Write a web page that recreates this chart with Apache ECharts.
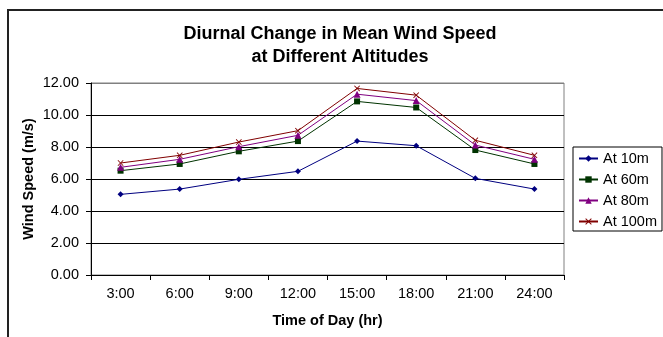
<!DOCTYPE html>
<html>
<head>
<meta charset="utf-8">
<script src="https://cdn.jsdelivr.net/npm/echarts@6/dist/echarts.min.js"></script>
<style>html,body{margin:0;padding:0;background:#fff;}#c{width:663px;height:337px;}</style>
</head>
<body>
<div id="c"></div>
<script>
var categories = ['3:00', '6:00', '9:00', '12:00', '15:00', '18:00', '21:00', '24:00'];
var at10m  = [5.04, 5.37, 5.98, 6.48, 8.37, 8.08, 6.04, 5.37];
var at60m  = [6.52, 6.94, 7.73, 8.37, 10.85, 10.47, 7.81, 6.94];
var at80m  = [6.73, 7.23, 8.02, 8.73, 11.30, 10.90, 8.12, 7.23];
var at100m = [7.00, 7.48, 8.31, 9.02, 11.66, 11.24, 8.42, 7.48];
var seriesNames = ['At 10m', 'At 60m', 'At 80m', 'At 100m'];
var yTicks = [0, 2, 4, 6, 8, 10, 12];

var FONT = '"Liberation Sans", Arial, sans-serif';
var xSym = 'path://M0,1L1,0L5,4L9,0L10,1L6,5L10,9L9,10L5,6L1,10L0,9L4,5Z';

function mk(name, data, color, symbol, size) {
  return {
    name: name, type: 'line', data: data,
    symbol: symbol, symbolSize: size, showSymbol: true,
    lineStyle: {color: color, width: 1},
    itemStyle: {color: color, borderWidth: 0},
    emphasis: {disabled: true}
  };
}

var chart = echarts.init(document.getElementById('c'), null, {renderer: 'canvas'});
chart.setOption({
  animation: false,
  backgroundColor: '#fff',
  textStyle: {fontFamily: FONT},
  title: {
    text: 'Diurnal Change in Mean Wind Speed\nat Different Altitudes',
    left: 335, top: 18, textAlign: 'center',
    textStyle: {fontFamily: FONT, fontSize: 18, fontWeight: 'bold', color: '#000', lineHeight: 23}
  },
  graphic: [{
    type: 'rect', z: 100, silent: true,
    shape: {x: 8, y: 10, width: 800, height: 500},
    style: {fill: 'none', stroke: '#222', lineWidth: 2}
  }],
  legend: {
    left: 573, top: 147, orient: 'vertical',
    data: seriesNames,
    itemWidth: 19, itemHeight: 8, itemGap: 6,
    padding: [4, 5, 2, 5],
    borderColor: '#000', borderWidth: 1,
    textStyle: {fontFamily: FONT, fontSize: 14.5, color: '#000', lineHeight: 14}
  },
  grid: {
    left: 91, right: 99, top: 83, bottom: 62,
    show: true, borderColor: '#808080', borderWidth: 1, backgroundColor: 'transparent'
  },
  xAxis: {
    type: 'category', data: categories, boundaryGap: true,
    name: 'Time of Day (hr)', nameLocation: 'middle', nameGap: 38, nameMoveOverlap: false,
    nameTextStyle: {fontFamily: FONT, fontSize: 14.5, fontWeight: 'bold', color: '#000'},
    axisLine: {lineStyle: {color: '#000', width: 1}},
    axisTick: {show: true, length: 5, lineStyle: {color: '#000'}},
    axisLabel: {fontFamily: FONT, fontSize: 14.5, color: '#000', margin: 11, interval: 0},
    splitLine: {show: false}
  },
  yAxis: {
    type: 'value', min: yTicks[0], max: yTicks[yTicks.length - 1], interval: 2,
    name: 'Wind Speed (m/s)', nameLocation: 'middle', nameGap: 55, nameMoveOverlap: false,
    nameTextStyle: {fontFamily: FONT, fontSize: 14.5, fontWeight: 'bold', color: '#000'},
    axisLine: {show: true, lineStyle: {color: '#000', width: 1}},
    axisTick: {show: true, length: 5, lineStyle: {color: '#000'}},
    axisLabel: {fontFamily: FONT, fontSize: 14.5, color: '#000', margin: 12,
      formatter: function (v) { return v.toFixed(2); }},
    splitLine: {show: true, lineStyle: {color: ['#000', '#000', '#000', '#000', '#000', '#000', '#808080'], width: 1}}
  },
  series: [
    mk(seriesNames[0], at10m, '#000080', 'diamond', 6),
    mk(seriesNames[1], at60m, '#003300', 'rect', 6),
    mk(seriesNames[2], at80m, '#800080', 'triangle', 7),
    mk(seriesNames[3], at100m, '#800000', xSym, 6)
  ]
});
</script>
</body>
</html>
